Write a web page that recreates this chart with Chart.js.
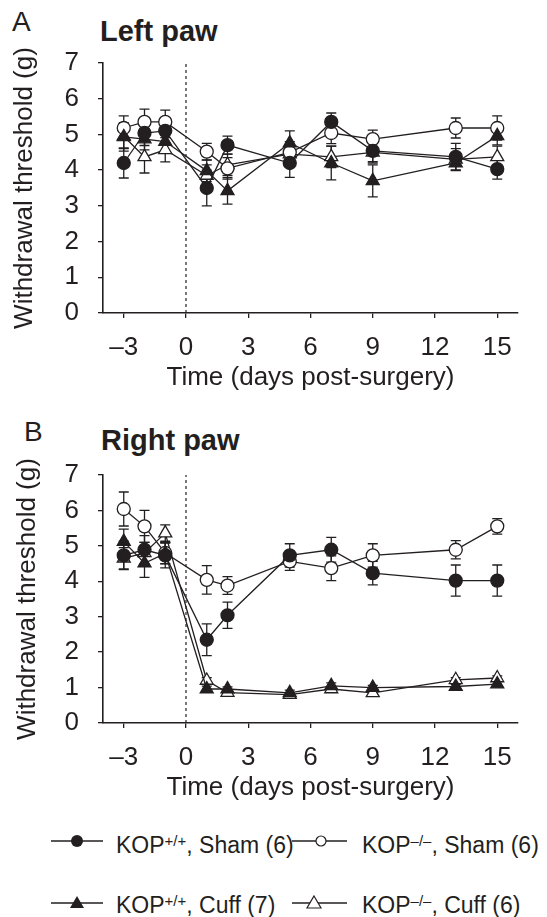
<!DOCTYPE html>
<html>
<head>
<meta charset="utf-8">
<script src="https://cdn.jsdelivr.net/npm/chart.js@4.4.1/dist/chart.umd.min.js"></script>
<style>
  html, body { margin: 0; padding: 0; background: #fff; }
  body { width: 547px; height: 917px; position: relative; overflow: hidden;
         font-family: Arial, "Liberation Sans", Helvetica, sans-serif; color: #231f20; }
  canvas { position: absolute; left: 0; }
  .lbl { position: absolute; white-space: nowrap; }
  .panel { font-size: 28px; line-height: 28px; }
  .title { font-size: 29px; line-height: 29px; font-weight: bold; }
  .leg { font-size: 23px; line-height: 23px; }
  .leg sup { font-size: 15px; vertical-align: 7px; line-height: 0; }
  svg { position: absolute; overflow: visible; }
</style>
</head>
<body>
<div class="lbl panel" style="left:12px; top:8px;">A</div>
<div class="lbl title" style="left:100px; top:17px;">Left paw</div>
<canvas id="chartLeft" width="547" height="400" style="top:0;"></canvas>

<div class="lbl panel" style="left:24px; top:418px;">B</div>
<div class="lbl title" style="left:101px; top:426px;">Right paw</div>
<canvas id="chartRight" width="547" height="400" style="top:410px;"></canvas>

<!-- legend -->
<svg style="left:51px; top:831px;" width="52" height="20">
  <line x1="0" y1="10" x2="52" y2="10" stroke="#231f20" stroke-width="1.3"/>
  <circle cx="26" cy="10" r="6" fill="#231f20"/>
</svg>
<div class="lbl leg" style="left:116px; top:834px;">KOP<sup>+/+</sup>, Sham (6)</div>
<svg style="left:292px; top:831px;" width="55" height="20">
  <line x1="0" y1="10" x2="55" y2="10" stroke="#231f20" stroke-width="1.3"/>
  <circle cx="29" cy="10" r="5" fill="#fff" stroke="#231f20" stroke-width="1.2"/>
</svg>
<div class="lbl leg" style="left:362px; top:834px;">KOP<sup>–/–</sup>, Sham (6)</div>

<svg style="left:51px; top:893px;" width="52" height="20">
  <line x1="0" y1="10" x2="52" y2="10" stroke="#231f20" stroke-width="1.3"/>
  <polygon points="26,3 33,15 19,15" fill="#231f20"/>
</svg>
<div class="lbl leg" style="left:116px; top:894px;">KOP<sup>+/+</sup>, Cuff (7)</div>
<svg style="left:292px; top:893px;" width="55" height="20">
  <line x1="0" y1="10" x2="55" y2="10" stroke="#231f20" stroke-width="1.3"/>
  <polygon points="22,3 29,15 15,15" fill="#fff" stroke="#231f20" stroke-width="1.2"/>
</svg>
<div class="lbl leg" style="left:362px; top:894px;">KOP<sup>–/–</sup>, Cuff (6)</div>

<script>
const INK = "#231f20";

// days relative to surgery
const days = [-3, -2, -1, 1, 2, 5, 7, 9, 13, 15];
const xTicks = [-3, 0, 3, 6, 9, 12, 15];
const yTicks = [0, 1, 2, 3, 4, 5, 6, 7];

// Panel A - left paw (mean, SEM)
const leftWtSham = [4.2, 5.04, 5.1, 3.5, 4.7, 4.2, 5.35, 4.54, 4.37, 4.03];
const leftWtShamErr = [0.42, 0.35, 0.35, 0.5, 0.25, 0.4, 0.25, 0.3, 0.38, 0.28];
const leftKoSham = [5.18, 5.35, 5.35, 4.52, 4.05, 4.5, 5.04, 4.87, 5.18, 5.18];
const leftKoShamErr = [0.34, 0.36, 0.33, 0.23, 0.3, 0.3, 0.3, 0.25, 0.28, 0.34];
const leftWtCuff = [4.93, 4.87, 4.8, 3.98, 3.42, 4.76, 4.2, 3.7, 4.2, 4.96];
const leftWtCuffErr = [0.4, 0.3, 0.3, 0.3, 0.37, 0.34, 0.47, 0.45, 0.2, 0.25];
const leftKoCuff = [4.95, 4.37, 4.57, 3.85, 4.15, 4.45, 4.37, 4.5, 4.3, 4.37];
const leftKoCuffErr = [0.35, 0.45, 0.34, 0.3, 0.3, 0.25, 0.3, 0.3, 0.3, 0.3];

// Panel B - right paw (mean, SEM)
const rightWtSham = [4.73, 4.89, 4.73, 2.35, 3.04, 4.73, 4.89, 4.23, 4.02, 4.02];
const rightWtShamErr = [0.4, 0.4, 0.35, 0.45, 0.37, 0.33, 0.35, 0.33, 0.44, 0.44];
const rightKoSham = [6.04, 5.55, 4.8, 4.04, 3.88, 4.56, 4.37, 4.73, 4.89, 5.55];
const rightKoShamErr = [0.48, 0.45, 0.3, 0.4, 0.25, 0.25, 0.35, 0.33, 0.26, 0.22];
const rightWtCuff = [5.12, 4.51, 4.79, 0.96, 0.96, 0.85, 1.05, 1.0, 1.03, 1.1];
const rightWtCuffErr = [0.35, 0.4, 0.3, 0.08, 0.06, 0.08, 0.08, 0.06, 0.06, 0.08];
const rightKoCuff = [4.65, 4.8, 5.36, 1.2, 0.86, 0.8, 0.96, 0.85, 1.22, 1.27];
const rightKoCuffErr = [0.3, 0.3, 0.23, 0.08, 0.06, 0.06, 0.06, 0.06, 0.06, 0.06];

// error bars drawn under the markers
const errorBars = {
    id: "errorBars",
    beforeDatasetsDraw(chart) {
        const { ctx, scales: { x, y } } = chart;
        ctx.save();
        ctx.strokeStyle = INK;
        ctx.lineWidth = 1.3;
        chart.data.datasets.forEach((ds) => {
            if (!ds.errors) return;
            ds.data.forEach((p, j) => {
                const px = x.getPixelForValue(p.x);
                const top = y.getPixelForValue(p.y + ds.errors[j]);
                const bot = y.getPixelForValue(p.y - ds.errors[j]);
                ctx.beginPath();
                ctx.moveTo(px, top); ctx.lineTo(px, bot);
                ctx.moveTo(px - 5, top); ctx.lineTo(px + 5, top);
                ctx.moveTo(px - 5, bot); ctx.lineTo(px + 5, bot);
                ctx.stroke();
            });
        });
        ctx.restore();
    },
};

function toPoints(values) {
    return values.map((v, i) => ({ x: days[i], y: v }));
}

function series(values, errors, style, filled, order) {
    return {
        data: toPoints(values),
        errors: errors,
        order: order,
        borderColor: INK,
        borderWidth: 1.3,
        tension: 0,
        pointStyle: style,
        pointRadius: style === "triangle" ? 7.5 : 6.5,
        pointBorderWidth: 1.3,
        pointBorderColor: INK,
        pointBackgroundColor: filled ? INK : "#fff",
    };
}

function makeChart(id, wtSham, wtShamErr, koSham, koShamErr, wtCuff, wtCuffErr, koCuff, koCuffErr, padTop, yTitlePad) {
    const ctx = document.getElementById(id).getContext("2d");
    return new Chart(ctx, {
        type: "line",
        data: {
            datasets: [
                series(wtSham, wtShamErr, "circle", true, 0),
                series(wtCuff, wtCuffErr, "triangle", true, 1),
                series(koSham, koShamErr, "circle", false, 2),
                series(koCuff, koCuffErr, "triangle", false, 3),
                {
                    // surgery day marker
                    data: [{ x: 0, y: 0 }, { x: 0, y: 7 }],
                    order: 9,
                    borderColor: INK,
                    borderWidth: 1.2,
                    borderDash: [3, 3],
                    pointRadius: 0,
                },
            ],
        },
        options: {
            responsive: false,
            animation: false,
            devicePixelRatio: 1,
            layout: { padding: { top: padTop, right: 29, left: 0, bottom: 0 } },
            plugins: { legend: { display: false }, tooltip: { enabled: false } },
            scales: {
                x: {
                    type: "linear",
                    min: -4,
                    max: 16,
                    afterBuildTicks: (scale) => { scale.ticks = xTicks.map((v) => ({ value: v })); },
                    afterFit: (scale) => { scale.height = 87; },
                    border: { display: true, color: INK, width: 1.6 },
                    grid: { drawOnChartArea: false, drawTicks: true, tickLength: 5, color: INK, lineWidth: 1.3 },
                    ticks: {
                        color: INK,
                        font: { family: "Arial, 'Liberation Sans', sans-serif", size: 26 },
                        padding: 14,
                        maxRotation: 0,
                        callback: (v) => (v < 0 ? "\u2013" + Math.abs(v) : String(v)),
                    },
                    title: {
                        display: true,
                        text: "Time (days post-surgery)",
                        color: INK,
                        font: { family: "Arial, 'Liberation Sans', sans-serif", size: 26 },
                        padding: { top: 0, bottom: 7 },
                    },
                },
                y: {
                    min: 0,
                    max: 7,
                    afterBuildTicks: (scale) => { scale.ticks = yTicks.map((v) => ({ value: v })); },
                    afterFit: (scale) => { scale.width = 103; },
                    border: { display: true, color: INK, width: 1.6 },
                    grid: { drawOnChartArea: false, drawTicks: true, tickLength: 5, color: INK, lineWidth: 1.3 },
                    ticks: {
                        color: INK,
                        font: { family: "Arial, 'Liberation Sans', sans-serif", size: 26 },
                        padding: 19,
                    },
                    title: {
                        display: true,
                        text: "Withdrawal threshold (g)",
                        color: INK,
                        font: { family: "Arial, 'Liberation Sans', sans-serif", size: 26 },
                        padding: { top: yTitlePad, bottom: 0 },
                    },
                },
            },
        },
        plugins: [errorBars],
    });
}

makeChart("chartLeft", leftWtSham, leftWtShamErr, leftKoSham, leftKoShamErr,
    leftWtCuff, leftWtCuffErr, leftKoCuff, leftKoCuffErr, 63, 9);
makeChart("chartRight", rightWtSham, rightWtShamErr, rightKoSham, rightKoShamErr,
    rightWtCuff, rightWtCuffErr, rightKoCuff, rightKoCuffErr, 65, 12);
</script>
</body>
</html>
